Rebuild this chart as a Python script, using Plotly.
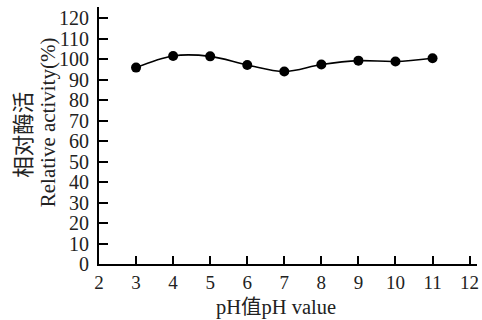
import plotly.graph_objects as go

ph = [3, 4, 5, 6, 7, 8, 9, 10, 11]
activity = [95.9, 101.6, 101.4, 97.2, 94.0, 97.4, 99.3, 98.9, 100.5]
x_ticks = [2, 3, 4, 5, 6, 7, 8, 9, 10, 11, 12]
y_ticks = [0, 10, 20, 30, 40, 50, 60, 70, 80, 90, 100, 110, 120]

FONT = "Liberation Serif, Times New Roman, Noto Sans CJK SC, serif"

L, R, T, B = 99, 477, 7, 264.5

fig = go.Figure()
fig.add_trace(go.Scatter(
    x=ph, y=activity, mode="lines+markers",
    line=dict(color="black", width=1.6, shape="spline", smoothing=1),
    marker=dict(color="black", size=10),
    showlegend=False,
))

fig.update_layout(
    width=482, height=320,
    margin=dict(l=L, r=482 - R, t=T, b=320 - B, autoexpand=False),
    paper_bgcolor="white", plot_bgcolor="white",
    font=dict(family=FONT, color="#222", size=18),
    xaxis=dict(
        range=[2, 12.2], tickvals=x_ticks, ticks="inside", ticklen=8, tickwidth=1.5,
        tickcolor="black", showline=True, linecolor="black", linewidth=2,
        showgrid=False, zeroline=False, tickfont=dict(size=19, family=FONT),
        automargin=False,
    ),
    yaxis=dict(
        range=[0, 125.5], tickvals=y_ticks, ticks="inside", ticklen=9, tickwidth=1.5,
        tickcolor="black", showline=True, linecolor="black", linewidth=2,
        showgrid=False, zeroline=False, tickfont=dict(size=20, family=FONT),
        ticklabelstandoff=4, automargin=False,
    ),
    annotations=[
        dict(text="pH值pH value", xref="paper", yref="paper", x=(276 - L) / (R - L),
             y=-(308 - B) / (B - T), xanchor="center", yanchor="middle",
             showarrow=False, font=dict(size=20.5, family=FONT)),
        dict(text="相对酶活", xref="paper", yref="paper", x=-(L - 24) / (R - L),
             y=(B - 135) / (B - T), xanchor="center", yanchor="middle", textangle=-90,
             showarrow=False, font=dict(size=21.5, family=FONT)),
        dict(text="Relative activity(%)", xref="paper", yref="paper", x=-(L - 48) / (R - L),
             y=(B - 122.5) / (B - T), xanchor="center", yanchor="middle", textangle=-90,
             showarrow=False, font=dict(size=21, family=FONT)),
    ],
)

fig.write_html(
    "out.html",
    config={"displayModeBar": False},
    post_script="document.body.style.margin='0';document.body.style.padding='0';",
)
